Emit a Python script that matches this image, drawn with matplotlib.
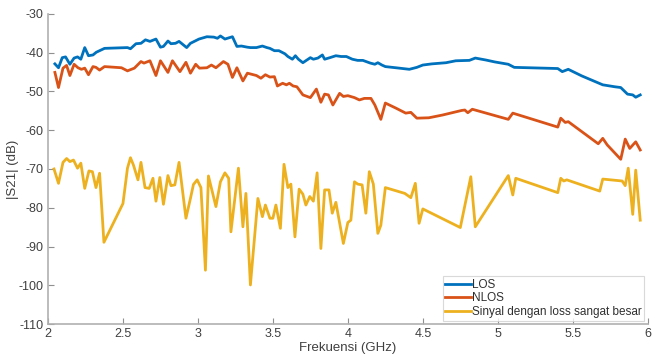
#!/usr/bin/env python3

import matplotlib as mpl
mpl.use('Agg')
import matplotlib.pyplot as plt

# LOS
los_f = [2.046, 2.07, 2.095, 2.117, 2.146, 2.174, 2.197, 2.219, 2.245, 2.27, 2.30, 2.322, 2.344,
         2.377, 2.53, 2.55, 2.587, 2.62, 2.65, 2.68, 2.72, 2.75, 2.77, 2.80, 2.82, 2.85, 2.874,
         2.925, 2.95, 3.007, 3.06, 3.106, 3.13, 3.15, 3.18, 3.23, 3.26, 3.29, 3.33, 3.35, 3.39,
         3.43, 3.46, 3.48, 3.51, 3.54, 3.58, 3.60, 3.63, 3.65, 3.67, 3.70, 3.75, 3.77, 3.80, 3.83,
         3.845, 3.88, 3.92, 3.955, 3.99, 4.03, 4.065, 4.10, 4.15, 4.18, 4.20, 4.227, 4.25, 4.32,
         4.41, 4.46, 4.50, 4.56, 4.655, 4.72, 4.81, 4.85, 4.92, 4.98, 5.07, 5.11, 5.40, 5.43,
         5.47, 5.56, 5.70, 5.78, 5.82, 5.865, 5.90, 5.92, 5.95]
los_db = [-42.9, -43.9, -41.3, -41.1, -43.0, -41.4, -41.1, -41.7, -38.7, -40.8, -40.6, -39.9, -39.5,
          -38.9, -38.7, -39.0, -37.7, -37.6, -36.7, -37.1, -36.5, -38.6, -38.4, -37.0, -37.7, -37.6, -37.1,
          -38.7, -37.6, -36.5, -35.9, -36.0, -36.3, -35.7, -36.5, -35.9, -38.4, -38.3, -38.6, -38.7, -38.7,
          -38.3, -38.7, -38.9, -39.5, -39.5, -40.3, -41.0, -41.7, -40.8, -41.7, -42.6, -41.3, -41.7, -41.4, -40.6,
          -41.7, -41.3, -40.8, -41.0, -41.0, -41.7, -42.0, -42.0, -42.7, -43.0, -42.6, -43.2, -43.6, -43.9,
          -44.3, -43.8, -43.2, -42.9, -42.6, -42.1, -42.0, -41.4, -41.9, -42.4, -43.0, -43.8, -44.1, -44.9,
          -44.3, -46.0, -48.3, -48.8, -49.0, -50.7, -50.9, -51.5, -50.9]

# NLOS
nlos_f = [2.046, 2.07, 2.10, 2.124, 2.146, 2.174, 2.20, 2.223, 2.245, 2.27, 2.30, 2.32, 2.344, 2.377,
          2.49, 2.53, 2.576, 2.62, 2.64, 2.68, 2.72, 2.75, 2.80, 2.83, 2.88, 2.92, 2.95, 2.985, 3.01,
          3.06, 3.09, 3.12, 3.17, 3.20, 3.23, 3.26, 3.30, 3.33, 3.36, 3.39, 3.42, 3.45, 3.48, 3.51,
          3.53, 3.565, 3.59, 3.61, 3.635, 3.66, 3.70, 3.75, 3.79, 3.82, 3.845, 3.87, 3.90, 3.945, 3.97,
          4.0, 4.044, 4.077, 4.11, 4.154, 4.18, 4.22, 4.25, 4.32, 4.386, 4.42, 4.46, 4.54, 4.63, 4.695,
          4.76, 4.78, 4.80, 4.83, 5.07, 5.10, 5.40, 5.42, 5.45, 5.47, 5.67, 5.70, 5.73, 5.82, 5.85,
          5.88, 5.92, 5.95]
nlos_db = [-45.1, -49.0, -44.0, -43.3, -45.9, -43.0, -43.9, -44.3, -44.0, -45.7, -43.6, -43.8, -44.5, -43.6,
           -43.9, -44.7, -44.0, -42.3, -42.7, -42.1, -45.9, -42.1, -45.1, -42.1, -44.9, -42.5, -45.3, -43.0, -44.0,
           -43.9, -43.2, -43.9, -42.3, -43.0, -46.4, -43.9, -47.3, -45.3, -45.6, -45.9, -46.6, -45.7, -46.3, -46.2,
           -48.6, -47.9, -48.3, -47.9, -48.6, -48.8, -50.9, -51.6, -49.4, -52.8, -50.7, -50.9, -53.5, -50.5, -51.3,
           -51.1, -51.6, -52.2, -51.8, -51.8, -53.5, -57.2, -53.0, -54.3, -55.6, -55.4, -56.9, -56.8, -56.1, -55.5,
           -54.9, -54.8, -55.5, -54.6, -57.2, -55.6, -59.2, -56.9, -58.0, -57.8, -63.5, -62.1, -63.8, -67.5, -62.3,
           -64.7, -63.0, -65.1]

# Sinyal dengan loss sangat besar
loss_f = [2.04, 2.07, 2.10, 2.124, 2.146, 2.17, 2.197, 2.219, 2.245, 2.273, 2.296, 2.32, 2.344, 2.373,
          2.50, 2.53, 2.55, 2.57, 2.60, 2.62, 2.647, 2.675, 2.70, 2.72, 2.746, 2.77, 2.80, 2.82, 2.846,
          2.874, 2.92, 2.95, 2.97, 2.995, 3.02, 3.05, 3.07, 3.12, 3.15, 3.18, 3.205, 3.22, 3.27, 3.30,
          3.32, 3.35, 3.40, 3.43, 3.45, 3.48, 3.50, 3.52, 3.55, 3.574, 3.60, 3.62, 3.647, 3.675, 3.70,
          3.72, 3.746, 3.77, 3.795, 3.82, 3.845, 3.874, 3.896, 3.92, 3.97, 4.0, 4.02, 4.044, 4.066, 4.095,
          4.12, 4.143, 4.17, 4.20, 4.22, 4.25, 4.38, 4.42, 4.45, 4.475, 4.50, 4.75, 4.82, 4.85, 5.07,
          5.10, 5.12, 5.40, 5.42, 5.44, 5.46, 5.68, 5.70, 5.83, 5.85, 5.87, 5.90, 5.92, 5.95]
loss_db = [-70.0, -73.7, -68.3, -67.3, -68.1, -67.7, -69.8, -68.5, -75.0, -70.5, -70.7, -74.8, -71.1, -88.9,
           -78.9, -69.8, -67.1, -69.0, -72.8, -68.3, -74.8, -75.0, -72.4, -78.3, -72.2, -79.1, -71.7, -74.3, -74.1,
           -68.3, -82.7, -77.6, -74.0, -72.8, -74.8, -96.1, -71.8, -79.7, -73.3, -71.0, -72.4, -86.2, -69.8, -84.9,
           -76.3, -99.9, -77.6, -82.3, -79.3, -82.7, -82.7, -79.3, -85.3, -68.8, -74.8, -73.9, -87.5, -75.2, -76.5,
           -79.3, -77.1, -78.3, -71.0, -90.5, -75.4, -75.4, -81.4, -78.6, -89.2, -83.8, -83.2, -73.3, -73.9, -74.1,
           -81.4, -70.7, -73.9, -86.6, -84.5, -74.8, -76.3, -77.4, -73.7, -84.0, -80.3, -85.1, -72.0, -84.9, -71.7,
           -76.7, -72.4, -76.1, -72.4, -73.1, -72.8, -75.7, -72.6, -73.1, -74.3, -69.8, -81.7, -70.3, -83.2]

x_ticks = [2, 2.5, 3, 3.5, 4, 4.5, 5, 5.5, 6]
x_labels = ['2', '2.5', '3', '3.5', '4', '4.5', '5', '5.5', '6']
y_ticks = [-110, -100, -90, -80, -70, -60, -50, -40, -30]

plt.rcParams['font.family'] = ['Liberation Sans', 'DejaVu Sans']
plt.rcParams['axes.unicode_minus'] = False
fig = plt.figure(figsize=(6.54, 3.55), dpi=100)
ax = fig.add_axes([0.0734, 0.087, 0.917, 0.874])

ax.plot(los_f, los_db, color='#0072BD', lw=2, label='LOS')
ax.plot(nlos_f, nlos_db, color='#D95319', lw=2, label='NLOS')
ax.plot(loss_f, loss_db, color='#EDB120', lw=2, label='Sinyal dengan loss sangat besar')

ax.set_xlim(2, 6)
ax.set_ylim(-110, -30)
ax.set_xticks(x_ticks)
ax.set_xticklabels(x_labels)
ax.set_yticks(y_ticks)

for s in ['top', 'right']:
    ax.spines[s].set_visible(False)
for s in ['left', 'bottom']:
    ax.spines[s].set_color('#b0b0b0')
    ax.spines[s].set_linewidth(1.2)
ax.tick_params(direction='in', length=4, width=0.8, color='#909090',
               labelsize=9, labelcolor='#404040', pad=3)

ax.set_xlabel('Frekuensi (GHz)', fontsize=9.5, color='#404040', labelpad=1)
ax.set_ylabel('|S21| (dB)', fontsize=9.5, color='#404040', labelpad=0)

leg = ax.legend(loc='lower right', fontsize=8.5, frameon=True, fancybox=False,
                handlelength=2.2, handletextpad=0.1, borderpad=0.2, labelspacing=0.15,
                borderaxespad=0.3)
leg.get_frame().set_edgecolor('#d0d0d0')
leg.get_frame().set_linewidth(0.8)
for t in leg.get_texts():
    t.set_color('#303030')

plt.savefig('out.png', dpi=100)
